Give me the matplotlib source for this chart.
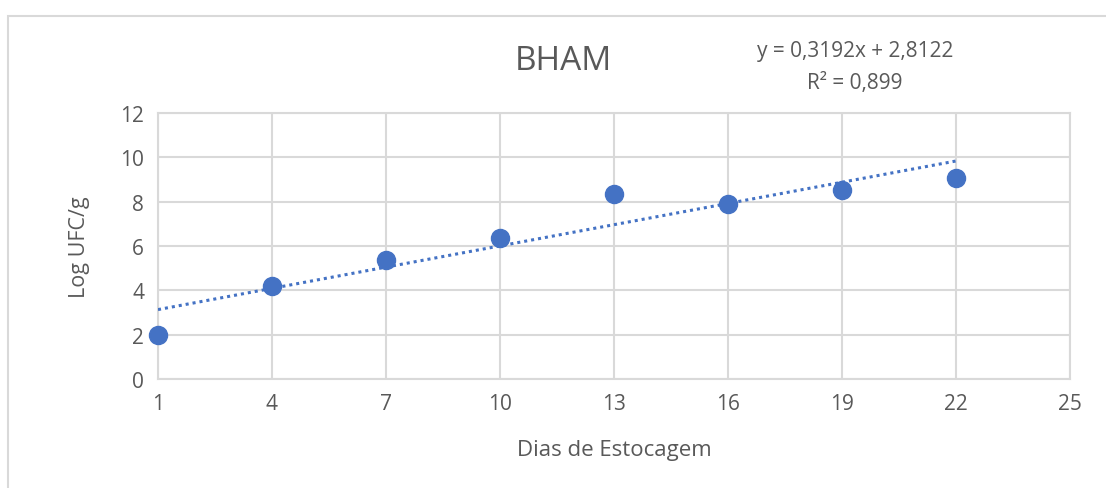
import matplotlib.pyplot as plt
import numpy as np
from matplotlib.patches import Rectangle

plt.rcParams['font.family'] = ['Open Sans', 'DejaVu Sans']

# storage days and log counts
dias = [1, 4, 7, 10, 13, 16, 19, 22]
log_ufc = [2.0, 4.2, 5.35, 6.35, 8.33, 7.88, 8.51, 9.05]

# linear trend reported on the chart
slope = 0.3192
intercept = 2.8122
r2 = 0.899

x_ticks = [1, 4, 7, 10, 13, 16, 19, 22, 25]
y_ticks = [0, 2, 4, 6, 8, 10, 12]

blue = '#4472C4'
grey_text = '#595959'
grid_col = '#d9d9d9'

fig = plt.figure(figsize=(11.06, 4.89), dpi=100)
fig.patches.append(Rectangle((8 / 1106, -0.1), 1.2, (489 - 17) / 489 + 0.1,
                             transform=fig.transFigure, fill=False,
                             edgecolor=grid_col, linewidth=1.5))

ax = fig.add_axes([158 / 1106, 1 - 380 / 489, (1070 - 158) / 1106, (380 - 114) / 489])

ax.set_xlim(1, 25)
ax.set_ylim(0, 12)
ax.set_xticks(x_ticks)
ax.set_yticks(y_ticks)
ax.tick_params(length=0, labelsize=15, labelcolor=grey_text, pad=10)
ax.grid(True, color=grid_col, linewidth=1.5)
ax.set_axisbelow(True)
for s in ax.spines.values():
    s.set_color(grid_col)
    s.set_linewidth(1.5)

# trend line over the data range
xt = np.array([dias[0], dias[-1]])
ax.plot(xt, slope * xt + intercept, color=blue, linewidth=2.2,
        linestyle=(0, (1, 1.3)), zorder=3)

ax.plot(dias, log_ufc, 'o', color=blue, markersize=13, zorder=4, clip_on=False)

ax.set_xlabel('Dias de Estocagem', fontsize=16, color=grey_text, labelpad=18)
ax.set_ylabel('Log UFC/g', fontsize=15.5, color=grey_text, labelpad=22)

fig.text(563 / 1106, 1 - 61 / 489, 'BHAM', fontsize=24, color=grey_text,
         ha='center', va='center')
eq = 'y = {:.4f}x + {:.4f}'.format(slope, intercept).replace('.', ',')
fig.text(855 / 1106, 1 - 52 / 489, eq, fontsize=15, color=grey_text,
         ha='center', va='center')
fig.text(855 / 1106, 1 - 84 / 489, 'R² = {:.3f}'.format(r2).replace('.', ','),
         fontsize=15, color=grey_text, ha='center', va='center')

fig.savefig('out.png', dpi=100, facecolor='white')
